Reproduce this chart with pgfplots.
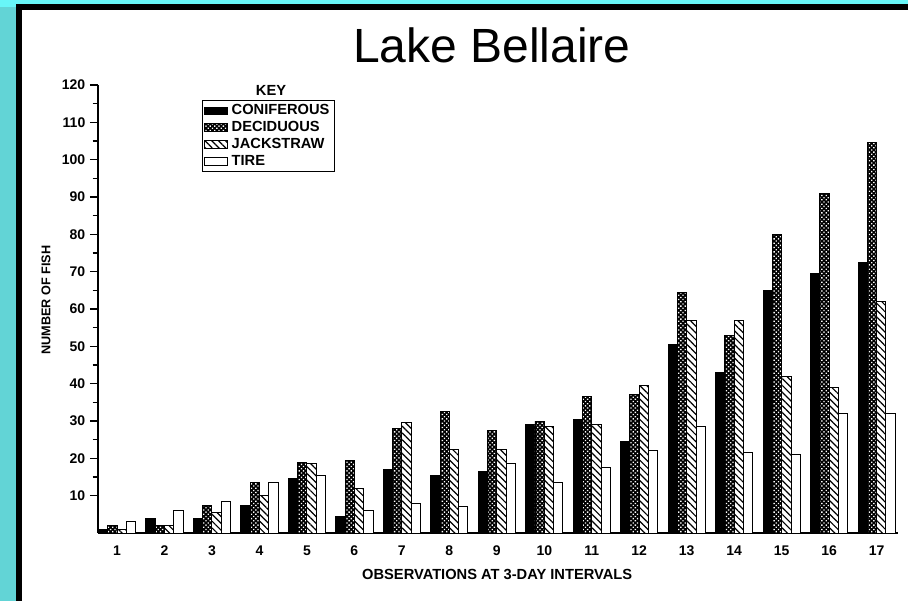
\documentclass[border=0pt]{standalone}
\usepackage{fontspec}
\setmainfont{Liberation Sans}
\usepackage{pgfplots}
\pgfplotsset{compat=1.18}
\usetikzlibrary{patterns.meta}
\definecolor{bgteal}{RGB}{98,212,214}
\definecolor{bgcyan}{RGB}{104,246,248}

\begin{document}
\begin{tikzpicture}[x=0.75pt,y=0.75pt]
% slide background and white panel
\fill[bgteal] (0,0) rectangle (908,601);
\fill[bgcyan] (0,594) rectangle (908,601);
\fill[black] (16,0) rectangle (908,597);
\fill[white] (22,0) rectangle (908,591);
\node[font=\fontsize{36}{40}\selectfont] at (492,556) {Lake Bellaire};

\begin{axis}[
    at={(73.5pt,51pt)}, anchor=south west,
    scale only axis, width=600pt, height=336pt,
    xmin=0.6, xmax=17.45, ymin=0, ymax=120,
    axis lines*=left,
    axis line style={line width=1.6pt},
    xtick={1,...,17}, major x tick style={draw=none},
    ytick={10,20,...,120}, minor y tick num=1,
    tick align=outside,
    major tick length=6pt, minor tick length=4pt,
    every tick/.style={line width=1pt, black},
    /pgf/number format/assume math mode=true,
    tick label style={font=\fontsize{10.5}{11}\selectfont\bfseries},
    xlabel={OBSERVATIONS AT 3-DAY INTERVALS},
    xlabel style={font=\fontsize{11}{12}\selectfont\bfseries, at={(axis description cs:0.499,0)}, anchor=center, yshift=-31pt},
    ybar, bar width=0.196,
    every axis plot/.append style={draw=black, line width=0.7pt},
    area legend,
    legend image code/.code={\draw[#1] (0cm,-0.1cm) rectangle (0.6cm,0.1cm);},
    legend cell align=left,
    legend style={at={(axis description cs:0.13,0.9665)}, anchor=north west,
        draw=black, line width=1pt, inner sep=1pt, row sep=-0.5pt,
        font=\fontsize{11}{12.5}\selectfont\bfseries,
        nodes={inner xsep=3pt}},
]
\addplot[fill=black, bar shift=-0.294] coordinates {
 (1,1) (2,4) (3,4) (4,7.5) (5,14.5) (6,4.5) (7,17) (8,15.5) (9,16.5)
 (10,29) (11,30.5) (12,24.5) (13,50.5) (14,43) (15,65) (16,69.5) (17,72.5)};
\addlegendentry{CONIFEROUS}
\addplot[fill=black, postaction={pattern={Dots[distance=2.3pt, radius=0.7pt, angle=45]}, pattern color=white}, bar shift=-0.098] coordinates {
 (1,2) (2,2) (3,7.5) (4,13.5) (5,19) (6,19.5) (7,28) (8,32.5) (9,27.5)
 (10,30) (11,36.5) (12,37) (13,64.5) (14,53) (15,80) (16,91) (17,104.5)};
\addlegendentry{DECIDUOUS}
\addplot[fill=white, postaction={pattern={Lines[angle=-45, distance=3.6pt, line width=0.9pt]}}, bar shift=0.098] coordinates {
 (1,1) (2,2) (3,5.5) (4,10) (5,18.5) (6,12) (7,29.5) (8,22.5) (9,22.5)
 (10,28.5) (11,29) (12,39.5) (13,57) (14,57) (15,42) (16,39) (17,62)};
\addlegendentry{JACKSTRAW}
\addplot[fill=white, bar shift=0.294] coordinates {
 (1,3) (2,6) (3,8.5) (4,13.5) (5,15.5) (6,6) (7,8) (8,7) (9,18.5)
 (10,13.5) (11,17.5) (12,22) (13,28.5) (14,21.5) (15,21) (16,32) (17,32)};
\addlegendentry{TIRE}
\end{axis}
\node[font=\fontsize{11}{12}\selectfont\bfseries, anchor=south] at (271,501) {KEY};
\node[font=\fontsize{9.5}{10}\selectfont\bfseries, rotate=90] at (46,301) {NUMBER OF FISH};
\pgfresetboundingbox
\useasboundingbox (0,0) rectangle (908,601);
\end{tikzpicture}
\end{document}
